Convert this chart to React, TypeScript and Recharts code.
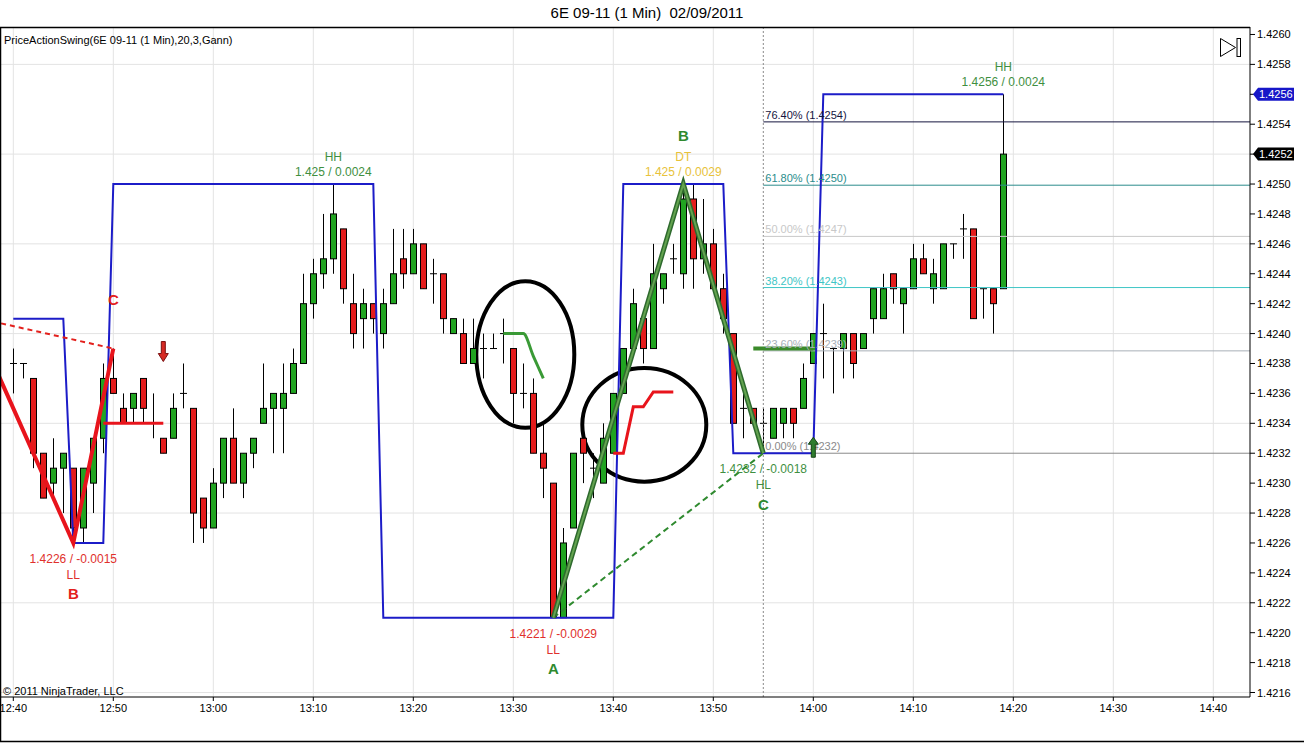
import React from "react";
import {
  ComposedChart,
  Bar,
  Line,
  XAxis,
  YAxis,
  CartesianGrid,
  ReferenceLine,
  ReferenceDot,
  ReferenceArea,
} from "recharts";

const FONT = '"Liberation Sans", Arial, Helvetica, sans-serif';

// ---------- data ----------
const times = [
  "12:40","12:41","12:42","12:43","12:44","12:45","12:46","12:47","12:48","12:49",
  "12:50","12:51","12:52","12:53","12:54","12:55","12:56","12:57","12:58","12:59",
  "13:00","13:01","13:02","13:03","13:04","13:05","13:06","13:07","13:08","13:09",
  "13:10","13:11","13:12","13:13","13:14","13:15","13:16","13:17","13:18","13:19",
  "13:20","13:21","13:22","13:23","13:24","13:25","13:26","13:27","13:28","13:29",
  "13:30","13:31","13:32","13:33","13:34","13:35","13:36","13:37","13:38","13:39",
  "13:40","13:41","13:42","13:43","13:44","13:45","13:46","13:47","13:48","13:49",
  "13:50","13:51","13:52","13:53","13:54","13:55","13:56","13:57","13:58","13:59",
  "14:00","14:01","14:02","14:03","14:04","14:05","14:06","14:07","14:08","14:09",
  "14:10","14:11","14:12","14:13","14:14","14:15","14:16","14:17","14:18","14:19",
];

const opens = [
  1.4238,1.4238,1.4237,1.4232,1.4230,1.4231,1.4231,1.4227,1.4230,1.4233,
  1.4237,1.4235,1.4235,1.4237,1.4234,1.4233,1.4233,1.4236,1.4235,1.4229,
  1.4227,1.4230,1.4233,1.4230,1.4232,1.4234,1.4235,1.4235,1.4236,1.4238,
  1.4242,1.4244,1.4245,1.4247,1.4242,1.4241,1.4242,1.4240,1.4242,1.4245,
  1.4244,1.4246,1.4244,1.4244,1.4240,1.4240,1.4238,1.4239,1.4239,1.4240,
  1.4239,1.4236,1.4236,1.4232,1.4230,1.4221,1.4227,1.4233,1.4231,1.4230,
  1.4232,1.4236,1.4239,1.4241,1.4239,1.4243,1.4245,1.4244,1.4249,1.4245,
  1.4246,1.4243,1.4240,1.4235,1.4235,1.4234,1.4233,1.4234,1.4235,1.4235,
  1.4238,1.4240,1.4239,1.4239,1.4240,1.4239,1.4241,1.4241,1.4244,1.4242,
  1.4243,1.4245,1.4243,1.4243,1.4246,1.4247,1.4247,1.4243,1.4243,1.4243,
];

const highs = [
  1.4239,1.4238,1.4237,1.4232,1.4233,1.4232,1.4231,1.4231,1.4233,1.4238,
  1.4239,1.4236,1.4236,1.4237,1.4236,1.4233,1.4236,1.4238,1.4235,1.4229,
  1.4231,1.4233,1.4235,1.4232,1.4233,1.4238,1.4236,1.4238,1.4239,1.4244,
  1.4245,1.4248,1.4250,1.4247,1.4244,1.4243,1.4242,1.4243,1.4247,1.4247,
  1.4247,1.4246,1.4245,1.4244,1.4241,1.4241,1.4241,1.4240,1.4240,1.4241,
  1.4239,1.4238,1.4237,1.4234,1.4230,1.4227,1.4232,1.4233,1.4232,1.4234,
  1.4236,1.4239,1.4243,1.4241,1.4246,1.4244,1.4246,1.4250,1.4250,1.4249,
  1.4247,1.4244,1.4240,1.4236,1.4235,1.4235,1.4235,1.4235,1.4235,1.4238,
  1.4240,1.4242,1.4239,1.4240,1.4240,1.4240,1.4243,1.4244,1.4244,1.4243,
  1.4246,1.4246,1.4245,1.4246,1.4246,1.4248,1.4247,1.4243,1.4243,1.4256,
];

const lows = [
  1.4236,1.4237,1.4231,1.4229,1.4229,1.4228,1.4226,1.4226,1.4228,1.4232,
  1.4236,1.4234,1.4234,1.4234,1.4233,1.4232,1.4233,1.4235,1.4226,1.4226,
  1.4227,1.4229,1.4230,1.4229,1.4231,1.4234,1.4232,1.4232,1.4236,1.4238,
  1.4241,1.4243,1.4244,1.4242,1.4239,1.4239,1.4240,1.4239,1.4242,1.4243,
  1.4244,1.4243,1.4242,1.4240,1.4240,1.4238,1.4238,1.4237,1.4239,1.4238,
  1.4234,1.4235,1.4232,1.4229,1.4221,1.4221,1.4227,1.4230,1.4229,1.4230,
  1.4232,1.4236,1.4239,1.4238,1.4239,1.4242,1.4244,1.4243,1.4243,1.4244,
  1.4243,1.4240,1.4234,1.4233,1.4234,1.4232,1.4233,1.4233,1.4233,1.4235,
  1.4238,1.4237,1.4236,1.4237,1.4237,1.4239,1.4240,1.4241,1.4242,1.4240,
  1.4243,1.4244,1.4242,1.4243,1.4245,1.4245,1.4241,1.4241,1.4240,1.4243,
];

const closes = [
  1.4238,1.4238,1.4232,1.4229,1.4231,1.4232,1.4227,1.4231,1.4233,1.4237,
  1.4236,1.4234,1.4236,1.4235,1.4234,1.4232,1.4235,1.4236,1.4228,1.4227,
  1.4230,1.4233,1.4230,1.4232,1.4233,1.4235,1.4236,1.4236,1.4238,1.4242,
  1.4244,1.4245,1.4248,1.4243,1.4240,1.4242,1.4241,1.4242,1.4244,1.4244,
  1.4246,1.4243,1.4244,1.4241,1.4241,1.4238,1.4239,1.4239,1.4239,1.4240,
  1.4236,1.4236,1.4232,1.4231,1.4221,1.4226,1.4232,1.4232,1.4231,1.4233,
  1.4236,1.4239,1.4242,1.4239,1.4244,1.4244,1.4245,1.4249,1.4245,1.4246,
  1.4243,1.4241,1.4234,1.4235,1.4234,1.4234,1.4235,1.4235,1.4234,1.4237,
  1.4240,1.4240,1.4239,1.4240,1.4238,1.4240,1.4243,1.4243,1.4243,1.4243,
  1.4245,1.4244,1.4244,1.4246,1.4246,1.4247,1.4241,1.4243,1.4242,1.4252,
];

// Gann swing line (blue)
const gannSwing: [string, number][] = [
  ["12:40", 1.4241], ["12:45", 1.4241], ["12:46", 1.4226], ["12:49", 1.4226],
  ["12:50", 1.4250], ["13:16", 1.4250], ["13:17", 1.4221], ["13:40", 1.4221],
  ["13:41", 1.4250], ["13:51", 1.4250], ["13:52", 1.4232], ["14:00", 1.4232],
  ["14:01", 1.4256], ["14:19", 1.4256],
];

// red swing zigzag and projection
const redZigzag: [string, number][] = [["12:38", 1.4238], ["12:46", 1.4226], ["12:50", 1.4239]];
const redProjection: [string, number][] = [["12:30", 1.4242], ["12:50", 1.4239]];
const redLevel: [string, number][] = [["12:49", 1.4234], ["12:55", 1.4234]];

// green ABC
const greenABC: [string, number][] = [["13:34", 1.4221], ["13:47", 1.4250], ["13:55", 1.4232]];
const greenAC: [string, number][] = [["13:34", 1.4221], ["13:55", 1.4232]];
const greenLevel: [string, number][] = [["13:54", 1.4239], ["14:00", 1.4239]];

// small indicator curves inside the circled areas
const greenCurve: [string, number][] = [["13:29", 1.4240], ["13:31", 1.4240], ["13:32", 1.42385], ["13:33", 1.4237]];
const redCurve: [string, number][] = [
  ["13:40", 1.4232], ["13:41", 1.4232], ["13:42", 1.42351], ["13:43", 1.42351],
  ["13:44", 1.42361], ["13:46", 1.42361],
];

// circled areas: [startTime, endTime, lowPrice, highPrice]
const circles: [string, string, number, number][] = [
  ["13:26.3", "13:36.1", 1.42337, 1.42435],
  ["13:36.9", "13:49.3", 1.42301, 1.42377],
];

// swing labels
const swingLabels = [
  { time: "12:46", price: 1.4226, side: "low", value: "1.4226 / -0.0015", kind: "LL", tone: "red", letter: "B", letterTone: "red" },
  { time: "12:50", price: 1.4239, side: "high", value: "", kind: "", tone: "red", letter: "C", letterTone: "red" },
  { time: "13:12", price: 1.4250, side: "high", value: "1.425 / 0.0024", kind: "HH", tone: "green", letter: "", letterTone: "green" },
  { time: "13:34", price: 1.4221, side: "low", value: "1.4221 / -0.0029", kind: "LL", tone: "red", letter: "A", letterTone: "green" },
  { time: "13:47", price: 1.4250, side: "high", value: "1.425 / 0.0029", kind: "DT", tone: "gold", letter: "B", letterTone: "green" },
  { time: "13:55", price: 1.4232, side: "low", value: "1.4232 / -0.0018", kind: "HL", tone: "green", letter: "C", letterTone: "green" },
  { time: "14:19", price: 1.4256, side: "high", value: "1.4256 / 0.0024", kind: "HH", tone: "green", letter: "", letterTone: "green" },
];

// signal arrows
const signalArrows = [
  { time: "12:55", price: 1.42388, dir: "down" },
  { time: "14:00", price: 1.42324, dir: "up" },
];

// Fibonacci retracement
const fibStart = "13:55";
const fibBase = 1.4232;
const fibRange = 0.0029;
const fibLevels = [0, 23.6, 38.2, 50, 61.8, 76.4];
const fibColors = ["#8a8a8a", "#a8b0b8", "#3ec6c6", "#c8c8c8", "#2a8c8c", "#15153f"];

// axes
const xTickLabels = ["12:40","12:50","13:00","13:10","13:20","13:30","13:40","13:50","14:00","14:10","14:20","14:30","14:40"];
const yTicks = [
  1.4216,1.4218,1.4220,1.4222,1.4224,1.4226,1.4228,1.4230,1.4232,1.4234,1.4236,1.4238,
  1.4240,1.4242,1.4244,1.4246,1.4248,1.4250,1.4252,1.4254,1.4256,1.4258,1.4260,
];
const gridPrices = [1.4216, 1.4222, 1.4228, 1.4234, 1.4240, 1.4246, 1.4252, 1.4258];

const X_MIN = -1.33;
const X_MAX = 123.67;
const Y_MIN = 1.42157;
const Y_MAX = 1.42605;

// ---------- helpers ----------
const toMin = (s: string) => {
  const [h, m] = s.split(":").map(Number);
  return (h - 12) * 60 + m - 40;
};
const pts = (arr: [string, number][]) => arr.map(([t, p]) => ({ t: toMin(t), p }));

const candles = times.map((t, i) => ({
  t: toMin(t),
  o: opens[i],
  h: highs[i],
  l: lows[i],
  c: closes[i],
}));
const xTicks = xTickLabels.map(toMin);
const lastClose = closes[closes.length - 1];
const lastSwing = swingLabels[swingLabels.length - 1].price;
const priceTags = [
  { price: lastSwing, color: "#1717c8" },
  { price: lastClose, color: "#000000" },
];

const TONES: Record<string, string> = { red: "#e0302c", green: "#3f8f3f", gold: "#e8c23a" };
const LETTER_TONES: Record<string, string> = { red: "#e3201c", green: "#2f8a2f" };

// ---------- shapes ----------
const CandleShape = (props: any) => {
  const { x, y, width, height, payload } = props;
  if (x == null || y == null || !payload) return null;
  const { o, h, l, c } = payload;
  const top = Math.min(y, y + height);
  const hh = Math.abs(height);
  const span = h - l;
  const k = span > 0 ? hh / span : 0;
  const yOf = (v: number) => top + (h - v) * k;
  const cx = Math.round(x + width / 2) + 0.5;
  const wick = <line x1={cx} x2={cx} y1={yOf(h)} y2={yOf(l)} stroke="#000" strokeWidth={1} />;
  if (o === c) {
    const yy = yOf(o);
    return (
      <g>
        {wick}
        <line x1={cx - 3.5} x2={cx + 3.5} y1={yy} y2={yy} stroke="#000" strokeWidth={1} />
      </g>
    );
  }
  const bTop = yOf(Math.max(o, c));
  const bBot = yOf(Math.min(o, c));
  return (
    <g>
      {wick}
      <rect
        x={cx - 3}
        y={bTop}
        width={6}
        height={Math.max(1, bBot - bTop)}
        fill={c > o ? "#21a421" : "#e31c1c"}
        stroke="#000"
        strokeWidth={1}
      />
    </g>
  );
};

const SwingLabel = ({ cx, cy, s }: any) => {
  const fill = TONES[s.tone];
  const lf = LETTER_TONES[s.letterTone];
  const high = s.side === "high";
  const vy = high ? cy - 12 : cy + 16;
  const ky = high ? cy - 27 : cy + 32;
  const ly = high ? cy - 49 : cy + 51;
  return (
    <g style={{ fontFamily: FONT }}>
      {s.value ? (
        <text x={cx} y={vy} textAnchor="middle" dominantBaseline="central" fontSize={12} fill={fill}>
          {s.value}
        </text>
      ) : null}
      {s.kind ? (
        <text x={cx} y={ky} textAnchor="middle" dominantBaseline="central" fontSize={12} fill={fill}>
          {s.kind}
        </text>
      ) : null}
      {s.letter ? (
        <text x={cx} y={ly} textAnchor="middle" dominantBaseline="central" fontSize={15} fontWeight="bold" fill={lf}>
          {s.letter}
        </text>
      ) : null}
    </g>
  );
};

const ArrowShape = ({ cx, cy, dir }: any) => {
  if (dir === "down") {
    const p = [
      [cx - 2, cy - 10], [cx + 2, cy - 10], [cx + 2, cy + 2], [cx + 5, cy + 2],
      [cx, cy + 10], [cx - 5, cy + 2], [cx - 2, cy + 2],
    ];
    return <polygon points={p.map((q) => q.join(",")).join(" ")} fill="#d62a24" stroke="#7a1010" strokeWidth={1} />;
  }
  const p = [
    [cx, cy - 10], [cx + 5, cy - 3], [cx + 2, cy - 3], [cx + 2, cy + 10],
    [cx - 2, cy + 10], [cx - 2, cy - 3], [cx - 5, cy - 3],
  ];
  return <polygon points={p.map((q) => q.join(",")).join(" ")} fill="#2f7d2f" stroke="#164416" strokeWidth={1} />;
};

const FibLabel = ({ cx, cy, text, color }: any) => (
  <text x={cx + 2} y={cy - 3} fontSize={11} fill={color} style={{ fontFamily: FONT }}>
    {text}
  </text>
);

const YTick = (props: any) => {
  const { x, y, payload } = props;
  const v = payload.value as number;
  const tag = priceTags.find((t) => Math.abs(t.price - v) < 1e-7);
  if (tag) {
    const pts2 = [
      [x - 4, y], [x + 1, y - 6.5], [x + 37, y - 6.5], [x + 37, y + 6.5], [x + 1, y + 6.5],
    ];
    return (
      <g>
        <polygon points={pts2.map((q) => q.join(",")).join(" ")} fill={tag.color} />
        <text x={x + 2} y={y} dy={4} fontSize={11} fill="#fff" style={{ fontFamily: FONT }}>
          {v.toFixed(4)}
        </text>
      </g>
    );
  }
  return (
    <text x={x} y={y} dy={4} fontSize={11} fill="#000" style={{ fontFamily: FONT }}>
      {v.toFixed(4)}
    </text>
  );
};

const EllipseShape = (props: any) => {
  const { x, y, width, height } = props;
  if (x == null) return null;
  return (
    <ellipse
      cx={x + width / 2}
      cy={y + height / 2}
      rx={Math.abs(width) / 2}
      ry={Math.abs(height) / 2}
      fill="none"
      stroke="#000"
      strokeWidth={4}
    />
  );
};

export default function App() {
  const fibT = toMin(fibStart);
  return (
    <div
      style={{
        position: "absolute",
        left: 0,
        top: 0,
        width: 1304,
        height: 743,
        background: "#fff",
        fontFamily: FONT,
        overflow: "hidden",
      }}
    >
      <ComposedChart
        width={1304}
        height={743}
        data={candles}
        margin={{ top: 27, right: 0, bottom: 0, left: 0 }}
      >
        <CartesianGrid
          stroke="#e3e3e3"
          horizontalValues={gridPrices}
          verticalValues={xTicks}
        />
        <XAxis
          dataKey="t"
          type="number"
          domain={[X_MIN, X_MAX]}
          allowDataOverflow
          ticks={xTicks}
          interval={0}
          height={46}
          tickSize={4}
          tickMargin={3}
          tickFormatter={(v: number) => xTickLabels[xTicks.indexOf(v)] ?? ""}
          axisLine={{ stroke: "#000" }}
          tickLine={{ stroke: "#000" }}
          tick={{ fill: "#000", fontSize: 11, fontFamily: FONT }}
        />
        <YAxis
          orientation="right"
          type="number"
          domain={[Y_MIN, Y_MAX]}
          allowDataOverflow
          ticks={yTicks}
          interval={0}
          width={54}
          tickSize={5}
          tickMargin={2}
          axisLine={{ stroke: "#000" }}
          tickLine={{ stroke: "#000" }}
          tick={<YTick />}
        />

        <ReferenceLine x={fibT} stroke="#8a8a8a" strokeDasharray="2 2" />
        {fibLevels.map((lv, i) => {
          const p = fibBase + (fibRange * lv) / 100;
          return (
            <ReferenceLine
              key={"fl" + i}
              segment={[{ x: fibT, y: p }, { x: X_MAX, y: p }]}
              stroke={fibColors[i]}
              strokeWidth={1}
            />
          );
        })}
        {fibLevels.map((lv, i) => {
          const p = fibBase + (fibRange * lv) / 100;
          const txt = `${lv.toFixed(2)}% (${(Math.round(p * 10000 + 1e-6) / 10000).toFixed(4)})`;
          return (
            <ReferenceDot
              key={"fd" + i}
              x={fibT}
              y={p}
              r={1}
              shape={(sp: any) => <FibLabel cx={sp.cx} cy={sp.cy} text={txt} color={fibColors[i]} />}
            />
          );
        })}

        <Bar
          dataKey={(d: any) => [d.l, d.h]}
          barSize={6}
          isAnimationActive={false}
          shape={<CandleShape />}
        />

        <Line data={pts(gannSwing)} dataKey="p" type="linear" stroke="#1c1cc8" strokeWidth={2} dot={false} activeDot={false} isAnimationActive={false} />
        <Line data={pts(redProjection)} dataKey="p" type="linear" stroke="#e3201c" strokeWidth={2} strokeDasharray="5 4" dot={false} activeDot={false} isAnimationActive={false} />
        <Line data={pts(redZigzag)} dataKey="p" type="linear" stroke="#e8141c" strokeWidth={4} dot={false} activeDot={false} isAnimationActive={false} />
        <Line data={pts(redLevel)} dataKey="p" type="linear" stroke="#e8141c" strokeWidth={3} dot={false} activeDot={false} isAnimationActive={false} />
        <Line data={pts(greenAC)} dataKey="p" type="linear" stroke="#2f8a2f" strokeWidth={2} strokeDasharray="6 4" dot={false} activeDot={false} isAnimationActive={false} />
        <Line data={pts(greenABC)} dataKey="p" type="linear" stroke="#2e6a2e" strokeWidth={5} dot={false} activeDot={false} isAnimationActive={false} />
        <Line data={pts(greenABC)} dataKey="p" type="linear" stroke="#63a34f" strokeWidth={2} dot={false} activeDot={false} isAnimationActive={false} />
        <Line data={pts(greenLevel)} dataKey="p" type="linear" stroke="#3a8a2a" strokeWidth={4} dot={false} activeDot={false} isAnimationActive={false} />
        <Line data={pts(greenCurve)} dataKey="p" type="monotone" stroke="#3a9a36" strokeWidth={3} dot={false} activeDot={false} isAnimationActive={false} />
        <Line data={pts(redCurve)} dataKey="p" type="linear" stroke="#e8141c" strokeWidth={3} dot={false} activeDot={false} isAnimationActive={false} />

        {circles.map(([t1, t2, p1, p2], i) => (
          <ReferenceArea
            key={"c" + i}
            x1={toMin(t1.split(".")[0]) + Number("0." + (t1.split(".")[1] || "0"))}
            x2={toMin(t2.split(".")[0]) + Number("0." + (t2.split(".")[1] || "0"))}
            y1={p1}
            y2={p2}
            shape={<EllipseShape />}
          />
        ))}

        {signalArrows.map((a, i) => (
          <ReferenceDot
            key={"a" + i}
            x={toMin(a.time)}
            y={a.price}
            r={1}
            shape={(sp: any) => <ArrowShape cx={sp.cx} cy={sp.cy} dir={a.dir} />}
          />
        ))}

        {swingLabels.map((s, i) => (
          <ReferenceDot
            key={"s" + i}
            x={toMin(s.time)}
            y={s.price}
            r={1}
            shape={(sp: any) => <SwingLabel cx={sp.cx} cy={sp.cy} s={s} />}
          />
        ))}
      </ComposedChart>

      <svg
        width={1304}
        height={743}
        style={{ position: "absolute", left: 0, top: 0, pointerEvents: "none" }}
      >
        <text
          x={647}
          y={18}
          textAnchor="middle"
          fontSize={15}
          fill="#000"
          style={{ fontFamily: FONT, whiteSpace: "pre" }}
        >
          {"6E 09-11 (1 Min)  02/09/2011"}
        </text>
        <line x1={0} x2={1250} y1={27.5} y2={27.5} stroke="#000" strokeWidth={1.5} />
        <line x1={0.5} x2={0.5} y1={27} y2={742} stroke="#000" strokeWidth={1.5} />
        <line x1={0} x2={1304} y1={741.5} y2={741.5} stroke="#000" strokeWidth={1.5} />
        <text x={4} y={44} fontSize={11} fill="#000" style={{ fontFamily: FONT }}>
          PriceActionSwing(6E 09-11 (1 Min),20,3,Gann)
        </text>
        <text x={3} y={695} fontSize={11} fill="#000" style={{ fontFamily: FONT }}>
          © 2011 NinjaTrader, LLC
        </text>
        <polygon points="1220.5,38.5 1235.5,47.5 1220.5,56.5" fill="#fff" stroke="#000" strokeWidth={1} />
        <rect x={1237} y={38.5} width={3.5} height={18} fill="#fff" stroke="#000" strokeWidth={1} />
      </svg>
    </div>
  );
}
